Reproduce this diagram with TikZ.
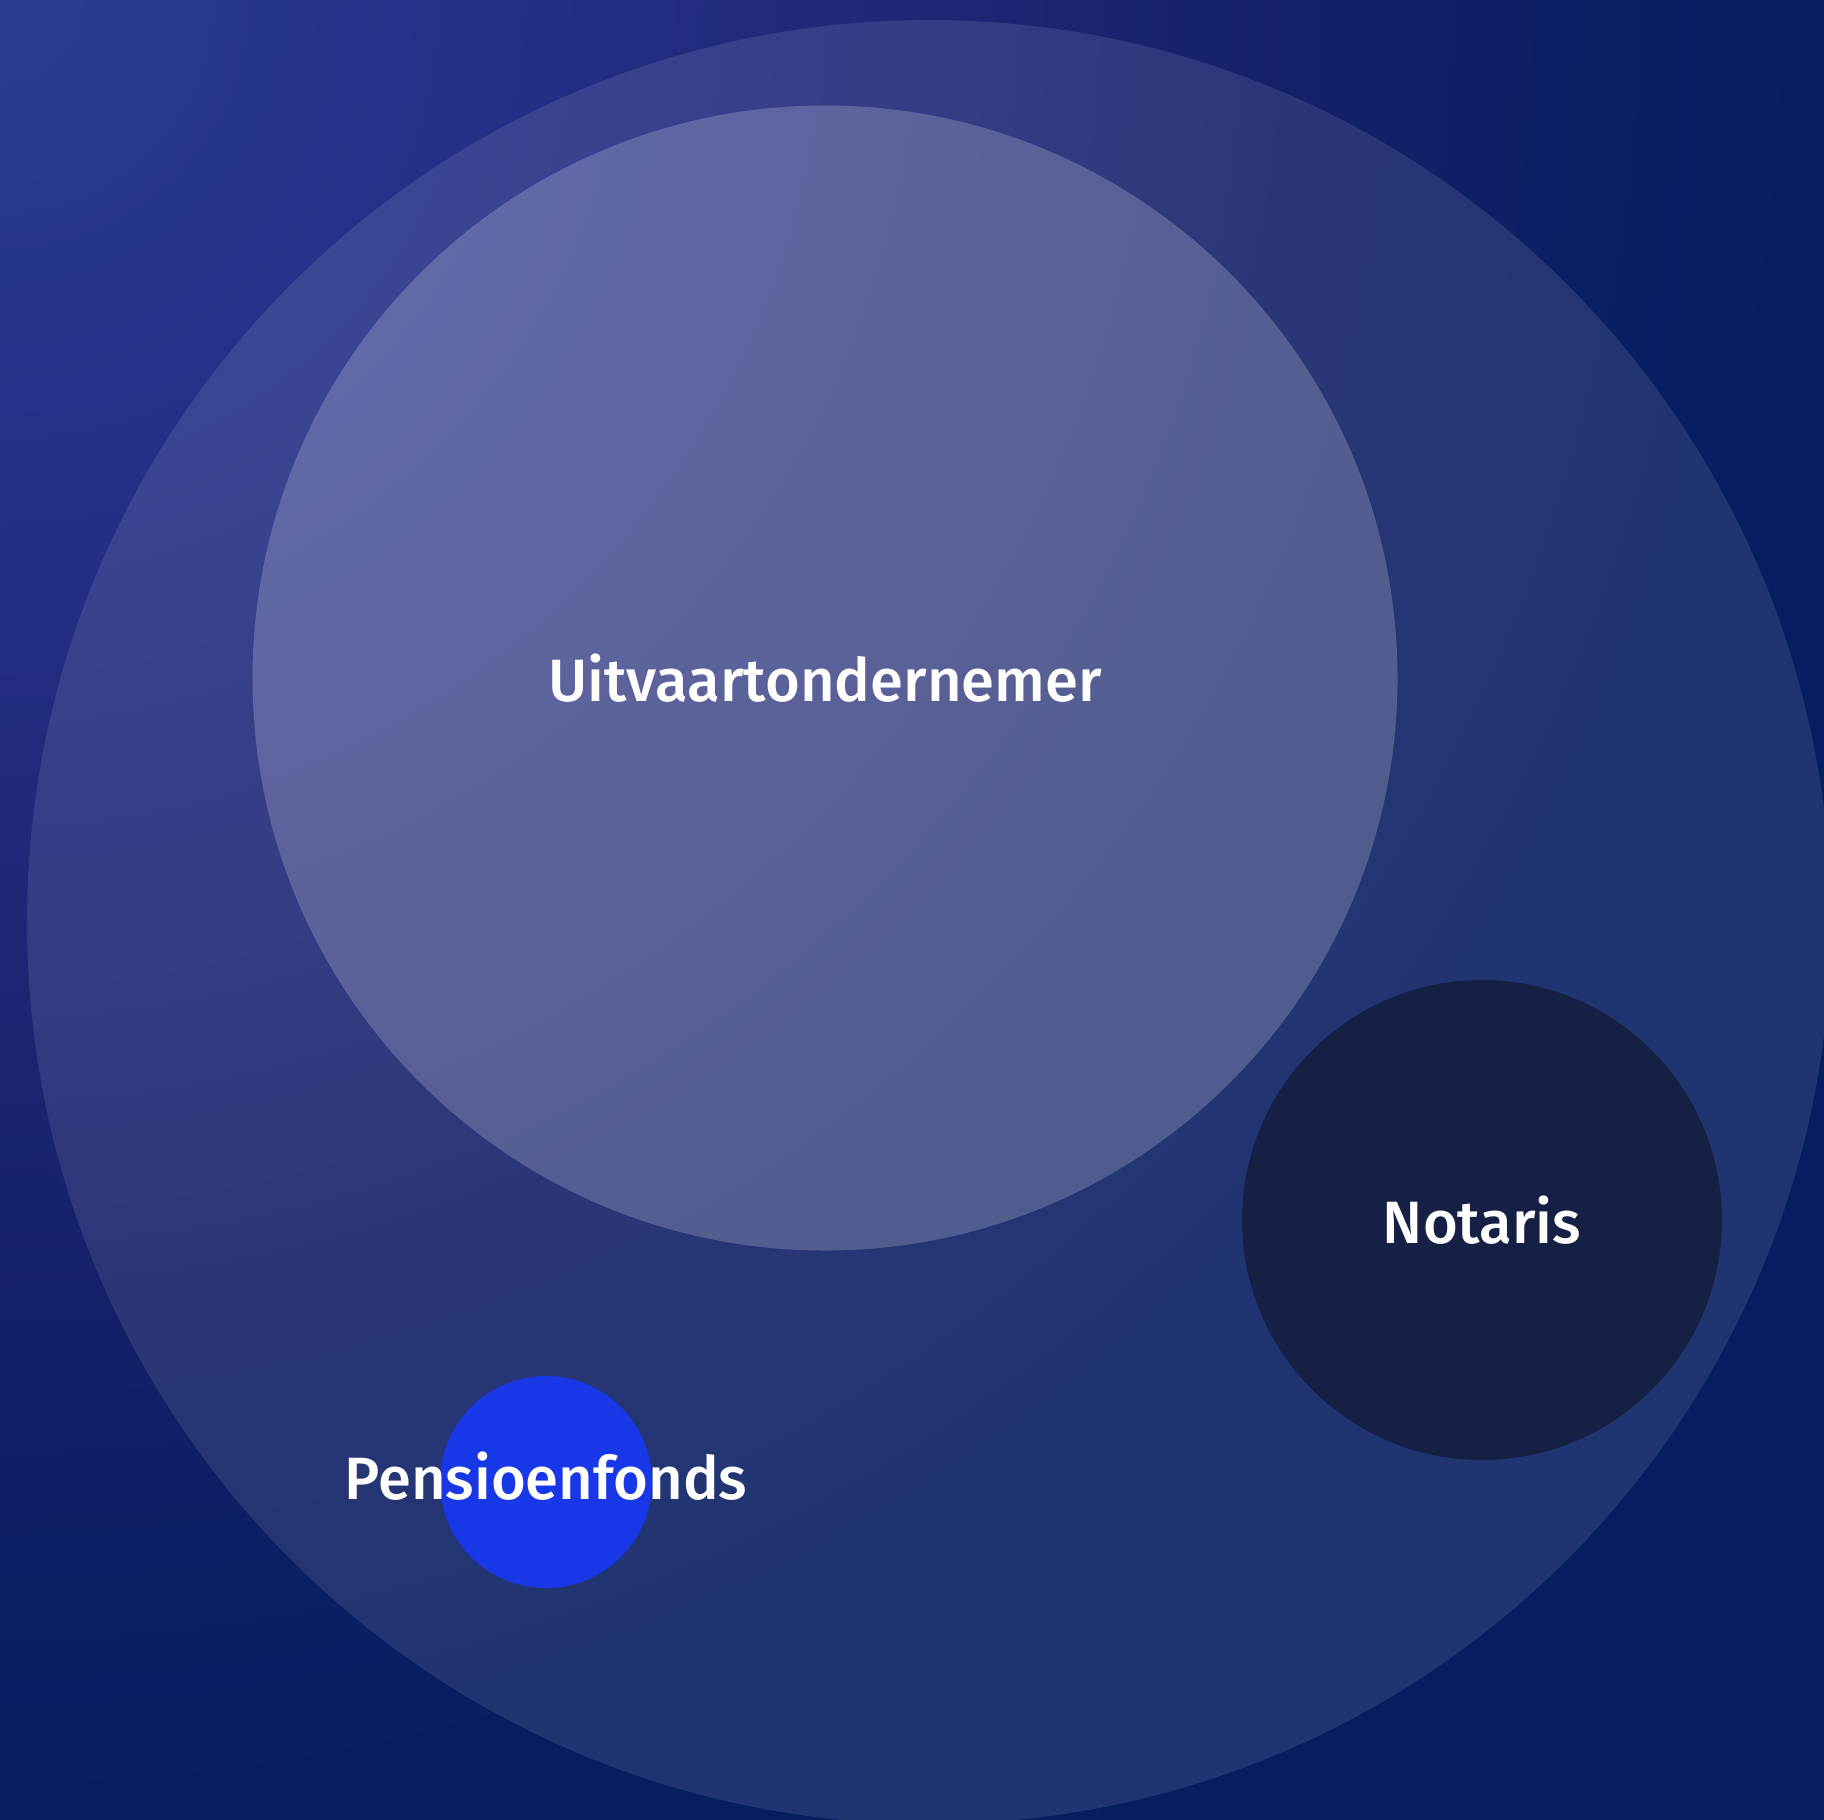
\documentclass[tikz,border=0pt]{standalone}
\usepackage{fontspec}
\setmainfont{Fira Sans}[UprightFont=* Medium, BoldFont=* SemiBold]
\usetikzlibrary{shapes,backgrounds}

\definecolor{bgdark}{HTML}{061E60}
\definecolor{bgglow}{HTML}{293D90}
\definecolor{bgglowa}{HTML}{25318A}
\definecolor{bgglowb}{HTML}{1F2777}
\definecolor{bgglowc}{HTML}{142068}
\definecolor{notarisfill}{HTML}{162045}
\definecolor{pensioenfill}{HTML}{1838E8}

% glow from the upper left corner, 25bp = radius of the shaded circle
\pgfdeclareradialshading{cornerglow}{\pgfpoint{0bp}{0bp}}{%
	color(0bp)=(bgglow); color(3.57bp)=(bgglowa); color(8.04bp)=(bgglowb);
	color(11.61bp)=(bgglowc); color(16.07bp)=(bgdark); color(50bp)=(bgdark)}

\begin{document}
\begin{tikzpicture}[x=0.1mm,y=-0.1mm]

	\tikzstyle{bubble}     = [circle, inner sep=0pt, text=white, font=\fontsize{17}{21}\selectfont]
	\tikzstyle{glass}      = [bubble, fill=white, fill opacity=0.10, text opacity=1]
	\tikzstyle{glass mid}  = [glass, fill opacity=0.20]
	\tikzstyle{solid}      = [bubble, fill=notarisfill]
	\tikzstyle{tag}        = [inner sep=0pt, text=white, font=\fontsize{17}{21}\selectfont]

	\useasboundingbox (0,0) rectangle (1824,1819);
	\fill[bgdark] (0,0) rectangle (1824,1819);
	\begin{scope}
		\clip (0,0) rectangle (1824,1819);
		\shade[shading=cornerglow] (0,0) circle (280mm);
	\end{scope}

	\node [glass, minimum size=180.4mm] (nalaten) at (929,922) {};
	\node [glass mid, minimum size=114.5mm] (uitvaart) at (825,678) {Uitvaartondernemer};
	\node [solid, minimum size=48mm] (notaris) at (1482,1220) {Notaris};

	\node [solid, fill=pensioenfill, minimum size=21.2mm] (pensioen) at (546,1482) {};
	\node [tag] (pensioentag) at (546,1476) {Pensioenfonds};

\end{tikzpicture}
\end{document}
